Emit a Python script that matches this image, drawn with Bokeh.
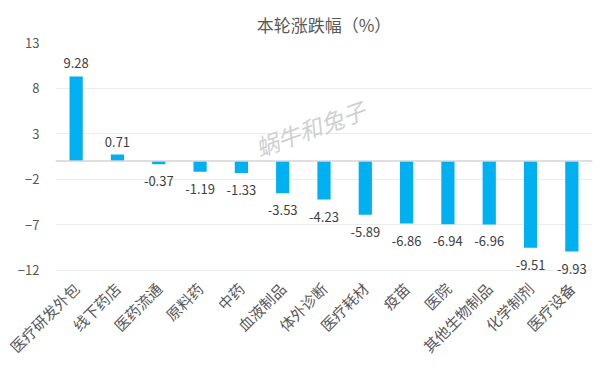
import math
from bokeh.plotting import figure
from bokeh.models import FactorRange, Range1d, FixedTicker, Span, ColumnDataSource, LabelSet
from bokeh.core.properties import value
from bokeh.embed import file_html
from bokeh.resources import INLINE

categories = ["医疗研发外包", "线下药店", "医药流通", "原料药", "中药", "血液制品", "体外诊断",
              "医疗耗材", "疫苗", "医院", "其他生物制品", "化学制剂", "医疗设备"]
values = [9.28, 0.71, -0.37, -1.19, -1.33, -3.53, -4.23, -5.89, -6.86, -6.94, -6.96, -9.51, -9.93]
y_ticks = [-12, -7, -2, 3, 8, 13]
title_text = "本轮涨跌幅（%）"
watermark = "蜗牛和兔子"

FONT = "Noto Sans CJK SC"

p = figure(width=597, height=366, x_range=FactorRange(*categories, range_padding=0),
           y_range=Range1d(-13, 13), output_backend="svg", toolbar_location=None,
           min_border_left=55, min_border_right=5, min_border_top=42, min_border_bottom=86)
p.outline_line_color = None
p.title.text = title_text
p.title.align = "center"
p.title.offset = -16
p.title.standoff = 12
p.title.text_font = FONT
p.title.text_font_size = "17px"
p.title.text_font_style = "normal"
p.title.text_color = "#595959"

src = ColumnDataSource(dict(cat=categories, val=values))
p.vbar(x="cat", top="val", bottom=0, width=0.32, source=src, color="#00B0F0", line_color=None)

pos = ColumnDataSource(dict(cat=[c for c, v in zip(categories, values) if v >= 0],
                            val=[v for v in values if v >= 0],
                            lab=["%.2f" % v for v in values if v >= 0]))
neg = ColumnDataSource(dict(cat=[c for c, v in zip(categories, values) if v < 0],
                            val=[v for v in values if v < 0],
                            lab=["%.2f" % v for v in values if v < 0]))
p.add_layout(LabelSet(x="cat", y="val", text="lab", source=pos, text_align="center",
                      text_baseline="bottom", y_offset=8, text_font=value(FONT),
                      text_font_size="13px", text_color="#404040"))
p.add_layout(LabelSet(x="cat", y="val", text="lab", source=neg, text_align="center",
                      text_baseline="top", y_offset=-12, text_font=value(FONT),
                      text_font_size="13px", text_color="#404040"))

p.text(x=[categories[6]], y=[3.6], text=[watermark], angle=math.radians(20), x_offset=-14,
       text_align="center", text_baseline="middle", text_font=value(FONT),
       text_font_size="23px", text_font_style="italic", text_color="#d0d0d0")

p.add_layout(Span(location=0, dimension="width", line_color="#d4d4d4", line_width=1.5))

p.yaxis.ticker = FixedTicker(ticks=y_ticks)
p.yaxis.axis_line_color = None
p.yaxis.major_tick_line_color = None
p.yaxis.minor_tick_line_color = None
p.yaxis.major_label_text_font = FONT
p.yaxis.major_label_text_font_size = "13px"
p.yaxis.major_label_text_color = "#595959"
p.yaxis.major_label_standoff = 10

p.xaxis.axis_line_color = None
p.xaxis.major_tick_line_color = None
p.xaxis.major_label_orientation = math.pi / 4
p.xaxis.major_label_standoff = 0
p.xaxis.major_label_text_font = FONT
p.xaxis.major_label_text_font_size = "15px"
p.xaxis.major_label_text_color = "#595959"

p.xgrid.grid_line_color = None
p.ygrid.grid_line_color = "#ececec"
p.ygrid.ticker = FixedTicker(ticks=y_ticks)

open("out.html", "w").write(file_html(p, INLINE))
